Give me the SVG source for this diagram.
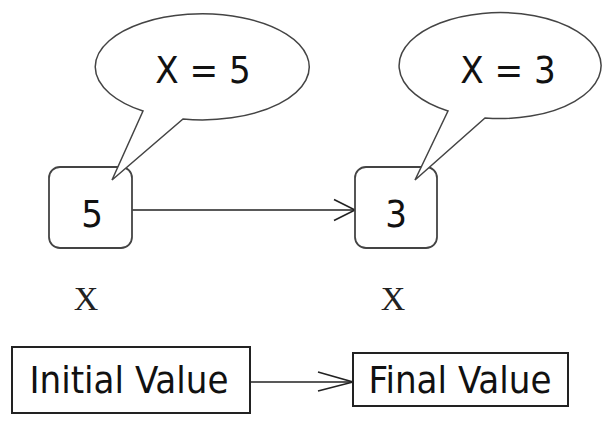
<svg xmlns="http://www.w3.org/2000/svg" width="604" height="425" viewBox="0 0 604 425">
<style>
.sans{font-family:"DejaVu Sans Condensed","DejaVu Sans",sans-serif;font-stretch:condensed;font-size:38px;fill:#111;text-anchor:middle}
.serif{font-family:"Liberation Serif","Times New Roman",serif;font-size:34px;fill:#222;text-anchor:middle}
.callout{fill:#fff;stroke:#444;stroke-width:1.5}
.rbox{fill:#fff;stroke:#444;stroke-width:1.8}
.sbox{fill:#fff;stroke:#222;stroke-width:2}
.conn{fill:none;stroke:#222;stroke-width:1.6}
</style>
<defs>
<marker id="open" viewBox="0 0 24 24" markerWidth="24" markerHeight="24" refX="22" refY="12" orient="auto" markerUnits="userSpaceOnUse">
<path d="M1 1.5 L22 12 L1 22.5" fill="none" stroke="#222" stroke-width="1.6"/>
</marker>
<marker id="open2" viewBox="0 0 40 24" markerWidth="40" markerHeight="24" refX="36" refY="12" orient="auto" markerUnits="userSpaceOnUse">
<path d="M1 2 L36 12 L1 21" fill="none" stroke="#222" stroke-width="1.6"/>
</marker>
</defs>
<rect width="604" height="425" fill="#fff"/>
<g id="connectors">
<line class="conn" x1="132" y1="210" x2="355" y2="210" marker-end="url(#open)"/>
<line class="conn" x1="250" y1="382" x2="353" y2="382" marker-end="url(#open2)"/>
</g>
<g id="node5">
<rect class="rbox" x="49" y="167" width="83" height="81" rx="11"/>
<text class="sans" x="92" y="227">5</text>
</g>
<g id="node3">
<rect class="rbox" x="355" y="167" width="82" height="81" rx="11"/>
<text class="sans" x="396" y="227">3</text>
</g>
<g id="callout1">
<path class="callout" d="M143 111 L112 180 L183 119 A107 53 0 1 0 143 111 Z"/>
<text class="sans" x="203" y="83">X = 5</text>
</g>
<g id="callout2">
<path class="callout" d="M448 111 L415 180 L485 118 A101 53 0 1 0 448 111 Z"/>
<text class="sans" x="508" y="83">X = 3</text>
</g>
<g id="labelX1"><text class="serif" x="86" y="310">X</text></g>
<g id="labelX2"><text class="serif" x="393" y="310">X</text></g>
<g id="initial">
<rect class="sbox" x="12" y="347" width="238" height="66"/>
<text class="sans" x="129" y="393">Initial Value</text>
</g>
<g id="final">
<rect class="sbox" x="353" y="353" width="215" height="53"/>
<text class="sans" x="460" y="393">Final Value</text>
</g>
</svg>
